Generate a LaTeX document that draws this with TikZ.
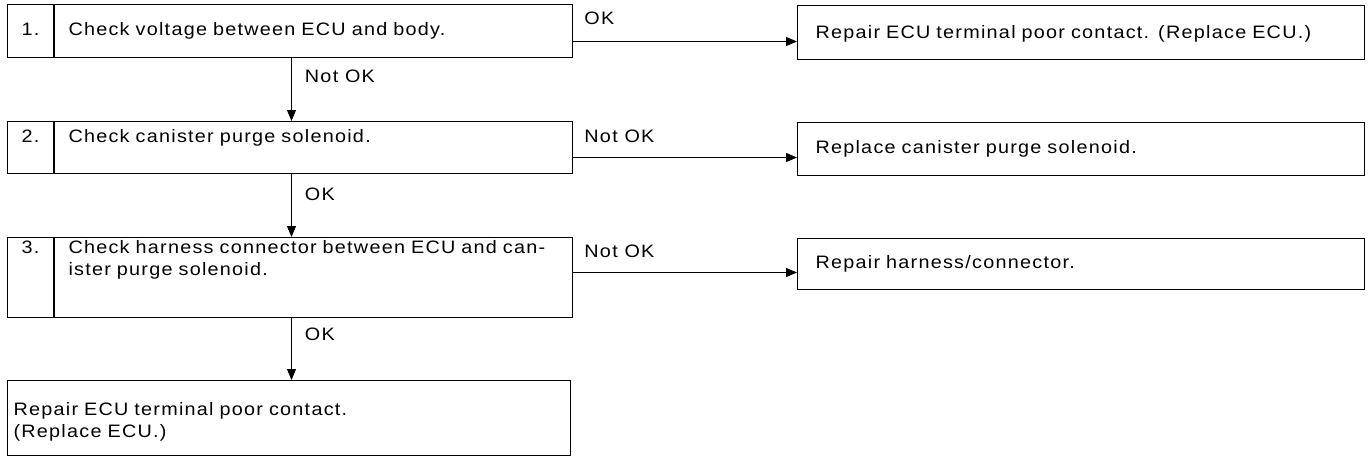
\documentclass[tikz,border=0pt]{standalone}
\usepackage{fontspec}
\setmainfont{Liberation Sans}[LetterSpace=7,FakeStretch=1.1]
\usetikzlibrary{arrows.meta,positioning}

\tikzset{
  numcell/.style={draw,line width=1pt,anchor=north west,inner xsep=0pt,inner ysep=0pt,text width=46pt,align=center},
  stepcell/.style={draw,line width=1pt,inner ysep=0pt,inner xsep=14pt,text width=490pt,align=left},
  fixbox/.style={draw,line width=1pt,anchor=north west,inner ysep=0pt,inner xsep=18pt,text width=531pt,align=left},
  flow/.style={line width=0.9pt,-{Triangle[length=11pt,width=9pt]}},
  lbl/.style={inner sep=0pt,anchor=base west}
}

\begin{document}
\begin{tikzpicture}[x=1pt,y=1pt,font=\fontsize{18}{22}\selectfont]
\useasboundingbox (0,0) rectangle (1371,-458);
% check steps
\node[numcell,text height=31pt,text depth=22pt] (n1) at (7,-4) {1.};
\node[stepcell,right=0pt of n1,text height=31pt,text depth=22pt] (c1) {Check voltage between ECU and body.};
\node[numcell,text height=21pt,text depth=31pt] (n2) at (7,-121) {2.};
\node[stepcell,right=0pt of n2,text height=21pt,text depth=31pt] (c2) {Check canister purge solenoid.};
\node[numcell,text height=16pt,text depth=64pt] (n3) at (7,-237) {3.};
\node[stepcell,right=0pt of n3,text height=16pt,text depth=64pt] (c3) {Check harness connector between ECU and can-\\ister purge solenoid.};
\node[draw,line width=1pt,anchor=north west,inner ysep=0pt,inner xsep=6pt,text width=551pt,align=left,text height=35pt,text depth=40pt] (c4) at (7,-380) {Repair ECU terminal poor contact.\\(Replace ECU.)};
% repairs
\node[fixbox,text height=33pt,text depth=21pt] (r1) at (797,-5) {Repair ECU terminal poor contact. (Replace ECU.)};
\node[fixbox,text height=31pt,text depth=22pt] (r2) at (797,-122) {Replace canister purge solenoid.};
\node[fixbox,text height=30pt,text depth=21pt] (r3) at (797,-238) {Repair harness/connector.};
% down
\draw[flow] ([xshift=-22pt]c1.south) -- ([xshift=-22pt]c1.south |- c2.north) node[lbl,pos=0.39,xshift=13pt] {Not OK};
\draw[flow] ([xshift=-22pt]c2.south) -- ([xshift=-22pt]c2.south |- c3.north) node[lbl,pos=0.42,xshift=13pt] {OK};
\draw[flow] ([xshift=-22pt]c3.south) -- ([xshift=-22pt]c3.south |- c4.north) node[lbl,pos=0.37,xshift=13pt] {OK};
% across
\draw[flow] ([yshift=-10.5pt]c1.east) -- ([yshift=-10.5pt]c1.east -| r1.west) node[lbl,pos=0,xshift=11pt,yshift=17pt] {OK};
\draw[flow] ([yshift=-10pt]c2.east) -- ([yshift=-10pt]c2.east -| r2.west) node[lbl,pos=0,xshift=11pt,yshift=15pt] {Not OK};
\draw[flow] ([yshift=5pt]c3.east) -- ([yshift=5pt]c3.east -| r3.west) node[lbl,pos=0,xshift=11pt,yshift=15pt] {Not OK};
\end{tikzpicture}
\end{document}
